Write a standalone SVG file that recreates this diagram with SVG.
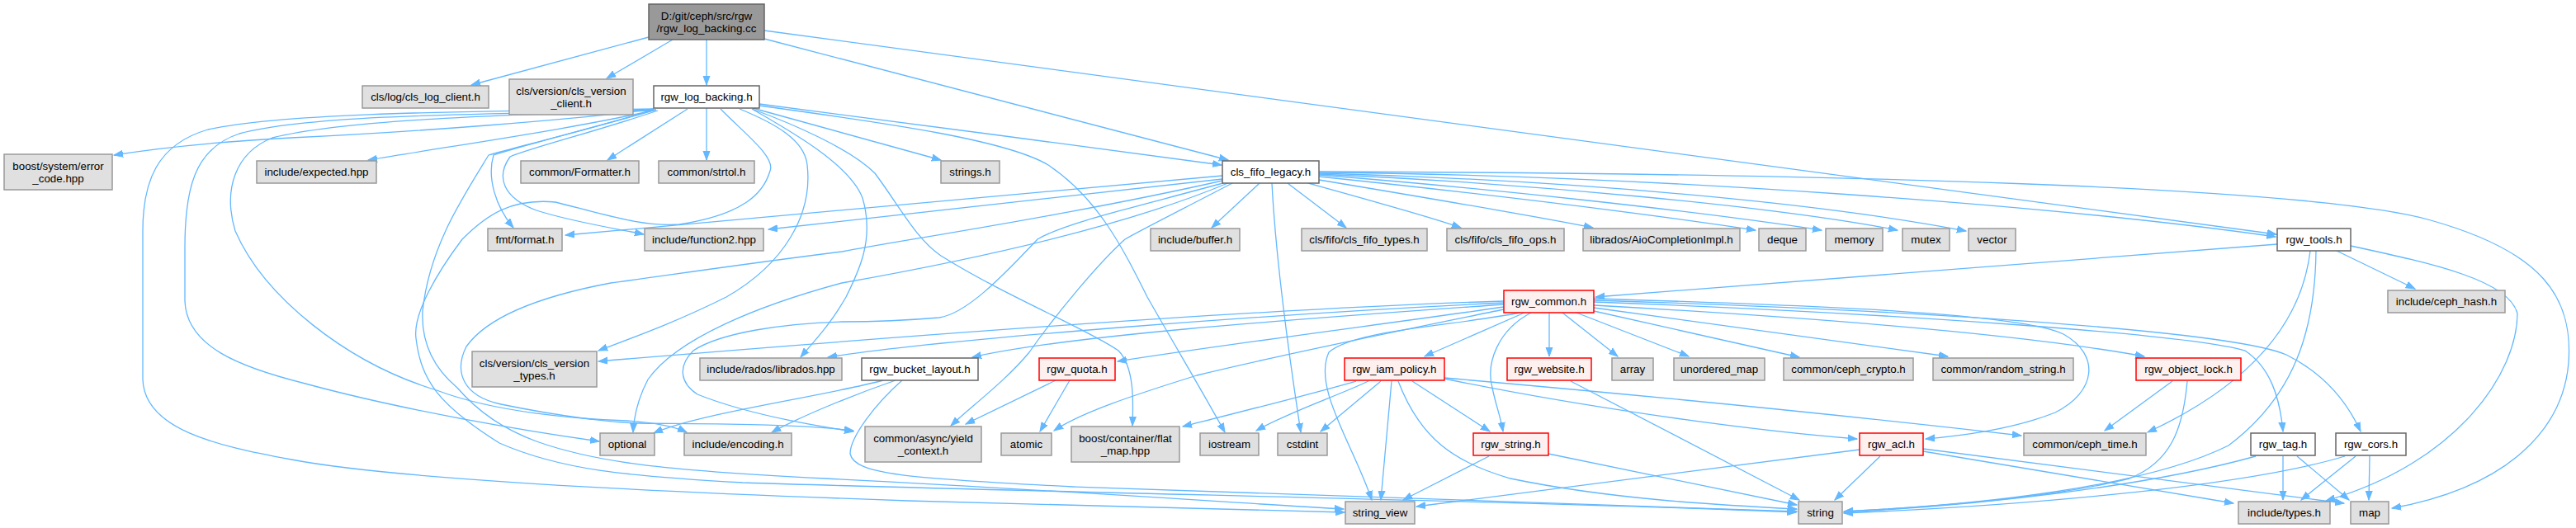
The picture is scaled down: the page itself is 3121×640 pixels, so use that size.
<svg xmlns="http://www.w3.org/2000/svg" width="3121" height="640" viewBox="0 0 3121 640">
<style>
text{font-family:"Liberation Sans",Arial,sans-serif;font-size:13.33px;fill:#000;text-anchor:middle}
.g rect{fill:#e0e0e0;stroke:#999999;stroke-width:1.5}
.w rect{fill:#ffffff;stroke:#666666;stroke-width:1.5}
.r rect{fill:#fff0f0;stroke:#ff0000;stroke-width:1.5}
.root rect{fill:#999999;stroke:#666666;stroke-width:1.5}
#edges path{fill:none;stroke:#63b8ff;stroke-width:1.3;marker-end:url(#ah)}
</style>
<defs>
<marker id="ah" markerUnits="userSpaceOnUse" markerWidth="12" markerHeight="10" viewBox="0 0 12 10" refX="11" refY="5" orient="auto">
<path d="M0,1 L11,5 L0,9 z" fill="#63b8ff" stroke="#63b8ff" stroke-width="1"/>
</marker>
</defs>
<rect width="3121" height="640" fill="#ffffff"/>
<g id="edges">
<path d="M786,45 L571,103"/>
<path d="M815,48 L735,95"/>
<path d="M856,48 L856,103"/>
<path d="M926,47 L1488,194"/>
<path d="M926,37 L2758,284"/>
<path d="M920,126 C1100,150 1300,175 1480,200"/>
<path d="M792,132 C700,145 500,160 353,167 C260,172 200,178 138,188"/>
<path d="M795,133 C700,155 560,175 446,194"/>
<path d="M833,132 L736,194"/>
<path d="M856,131 L856,194"/>
<path d="M912,131 L1140,194"/>
<path d="M795,133 C700,160 620,180 598,188 C590,215 600,250 622,276"/>
<path d="M797,134 C720,160 640,180 618,190 C600,215 610,240 650,255 C690,268 740,276 780,284"/>
<path d="M896,132 C940,150 975,170 978,200 C985,260 950,320 880,360 C820,390 770,408 725,425"/>
<path d="M911,132 C960,160 1030,200 1045,240 C1060,290 1040,330 1025,360 C1005,395 985,415 970,433"/>
<path d="M911,132 C960,150 1030,180 1060,210 C1090,250 1110,290 1140,310 C1220,360 1320,400 1355,425 C1375,445 1373,490 1372,516"/>
<path d="M920,128 C1080,150 1220,170 1270,200 C1330,240 1360,300 1390,360 C1430,430 1460,480 1484,524"/>
<path d="M792,134 C600,138 380,138 290,162 C235,180 224,230 224,300 L224,365 C226,420 290,445 370,465 C480,495 620,520 726,535"/>
<path d="M792,132 C600,135 350,135 252,157 C190,175 173,220 173,280 L173,460 C175,520 260,540 353,557 C500,585 900,600 1100,607 C1300,612 1500,617 1629,621"/>
<path d="M793,133 C600,140 420,145 330,167 C285,185 270,230 285,280 C320,360 420,440 529,473 C600,500 700,508 760,510 C790,512 815,516 832,524"/>
<path d="M873,132 C900,160 940,190 933,207 C925,235 900,260 823,272 C780,275 740,262 673,245 C620,240 590,260 560,290 C530,330 500,380 504,410 C510,460 530,490 605,537 C680,570 760,577 900,585 C1300,598 1900,608 2176,621"/>
<path d="M793,133 C700,160 620,180 592,188 C560,240 520,300 512,377 C510,420 530,450 554,470 C580,500 610,520 650,535 C720,560 800,570 1000,580 C1300,595 1500,610 1628,617"/>
<path d="M1481,217 L931,278"/>
<path d="M1481,213 L685,285"/>
<path d="M1526,222 L1468,276"/>
<path d="M1560,222 L1631,276"/>
<path d="M1585,222 C1650,240 1730,262 1770,276"/>
<path d="M1598,218 C1700,235 1850,260 1930,276"/>
<path d="M1598,214 C1800,235 2000,260 2127,279"/>
<path d="M1598,212 C1800,228 2050,255 2207,279"/>
<path d="M1598,211 C1850,222 2150,250 2299,279"/>
<path d="M1598,210 C1900,218 2200,245 2382,280"/>
<path d="M1598,209 C2000,212 2500,250 2757,287"/>
<path d="M1598,208 C2200,210 2800,225 2945,267 C3080,305 3118,360 3112,440 C3105,520 3040,590 2898,616"/>
<path d="M1541,222 C1545,300 1560,420 1576,524"/>
<path d="M1490,221 C1350,280 1150,320 1020,343 C920,370 820,410 785,460 C772,485 768,505 767,524"/>
<path d="M1495,221 C1420,260 1380,280 1363,290 C1330,320 1280,380 1247,427 C1220,460 1180,490 1152,516"/>
<path d="M1485,221 C1380,250 1290,270 1257,290 C1210,340 1170,380 1138,385 C1080,390 1040,390 1020,390 C950,392 873,403 840,425 C820,445 825,465 845,478 C900,500 980,515 1034,523"/>
<path d="M1481,219 C1300,260 1100,290 1020,305 C900,320 800,335 740,343 C650,360 590,385 565,420 C550,450 560,480 607,490 C680,505 740,512 773,513 C850,514 960,513 1034,522"/>
<path d="M1847,379 L1726,432"/>
<path d="M1855,379 C1815,400 1800,440 1808,470 C1812,490 1818,505 1821,523"/>
<path d="M1877,379 L1877,432"/>
<path d="M1893,379 L1960,432"/>
<path d="M1910,379 L2046,432"/>
<path d="M1931,377 L2180,433"/>
<path d="M1842,379 C1760,395 1640,400 1610,427 C1590,470 1640,540 1662,606"/>
<path d="M1931,373 L2360,432"/>
<path d="M1931,370 C2200,385 2450,405 2598,432"/>
<path d="M1931,366 C2300,380 2650,405 2720,425 C2750,445 2762,480 2766,523"/>
<path d="M1931,364 C2300,375 2700,400 2770,430 C2820,455 2845,490 2860,523"/>
<path d="M1931,362 C2200,370 2450,380 2500,405 C2545,430 2540,475 2490,500 C2440,520 2380,528 2333,532"/>
<path d="M1822,375 C1700,400 1560,428 1450,455 C1370,480 1310,500 1277,522"/>
<path d="M1822,372 C1700,390 1500,415 1354,438"/>
<path d="M1822,369 C1600,385 1300,405 1178,433"/>
<path d="M1822,367 C1550,380 1150,410 1003,433"/>
<path d="M1822,365 C1500,375 1000,415 725,438"/>
<path d="M1686,462 L1673,606"/>
<path d="M1694,462 C1720,530 1760,560 1830,580 C1950,605 2080,612 2177,617"/>
<path d="M1711,462 L1805,523"/>
<path d="M1750,459 C1900,490 2100,520 2250,532"/>
<path d="M1750,458 C2000,480 2250,505 2449,528"/>
<path d="M1673,462 L1600,523"/>
<path d="M1658,462 C1620,480 1560,500 1522,522"/>
<path d="M1643,462 C1580,480 1500,500 1433,517"/>
<path d="M1070,461 C1000,480 850,500 792,525"/>
<path d="M1085,461 C1030,480 970,505 935,524"/>
<path d="M1093,461 C1060,490 1030,530 1030,550 C1035,575 1100,580 1300,590 C1600,600 1900,612 2177,620"/>
<path d="M1279,461 L1170,514"/>
<path d="M1296,461 L1260,523"/>
<path d="M1903,462 L2180,606"/>
<path d="M1804,553 L1700,606"/>
<path d="M1876,550 L2177,612"/>
<path d="M2253,545 L1716,614"/>
<path d="M2278,553 L2223,606"/>
<path d="M2330,547 L2706,610"/>
<path d="M2330,544 L2840,610"/>
<path d="M2632,462 L2550,522"/>
<path d="M2650,462 C2645,520 2630,560 2580,580 C2480,605 2330,615 2234,620"/>
<path d="M2733,553 C2600,590 2400,612 2234,621"/>
<path d="M2766,553 L2766,606"/>
<path d="M2783,553 L2846,606"/>
<path d="M2841,553 C2700,595 2400,615 2234,622"/>
<path d="M2854,553 L2788,606"/>
<path d="M2871,553 L2870,606"/>
<path d="M2759,296 L1933,360"/>
<path d="M2831,304 L2926,350"/>
<path d="M2799,304 C2790,380 2740,460 2602,524"/>
<path d="M2806,304 C2805,400 2780,480 2700,540 C2600,590 2400,612 2234,620"/>
<path d="M2848,298 C2950,320 3040,340 3050,380 C3050,450 2980,560 2818,607"/>
</g>
<g id="n_root" class="root"><rect x="786" y="5" width="140" height="43"/><text x="856" y="23.5">D:/git/ceph/src/rgw</text><text x="856" y="38.5">/rgw_log_backing.cc</text></g>
<g id="n_logclient" class="g"><rect x="439" y="104" width="153" height="27"/><text x="515.5" y="122">cls/log/cls_log_client.h</text></g>
<g id="n_verclient" class="g"><rect x="617" y="96" width="150" height="43"/><text x="692" y="114.5">cls/version/cls_version</text><text x="692" y="129.5">_client.h</text></g>
<g id="n_lbh" class="w"><rect x="792" y="104" width="128" height="27"/><text x="856" y="122">rgw_log_backing.h</text></g>
<g id="n_boosterr" class="g"><rect x="5" y="187" width="131" height="43"/><text x="70.5" y="205.5">boost/system/error</text><text x="70.5" y="220.5">_code.hpp</text></g>
<g id="n_expected" class="g"><rect x="311" y="195" width="145" height="27"/><text x="383.5" y="213">include/expected.hpp</text></g>
<g id="n_formatter" class="g"><rect x="631" y="195" width="143" height="27"/><text x="702.5" y="213">common/Formatter.h</text></g>
<g id="n_strtol" class="g"><rect x="798" y="195" width="116" height="27"/><text x="856" y="213">common/strtol.h</text></g>
<g id="n_strings" class="g"><rect x="1140" y="195" width="71" height="27"/><text x="1175.5" y="213">strings.h</text></g>
<g id="n_fifo" class="w"><rect x="1481" y="195" width="117" height="27"/><text x="1539.5" y="213">cls_fifo_legacy.h</text></g>
<g id="n_fmt" class="g"><rect x="591" y="277" width="90" height="27"/><text x="636" y="295">fmt/format.h</text></g>
<g id="n_func2" class="g"><rect x="781" y="277" width="144" height="27"/><text x="853" y="295">include/function2.hpp</text></g>
<g id="n_buffer" class="g"><rect x="1394" y="277" width="108" height="27"/><text x="1448" y="295">include/buffer.h</text></g>
<g id="n_fifotypes" class="g"><rect x="1577" y="277" width="152" height="27"/><text x="1653" y="295">cls/fifo/cls_fifo_types.h</text></g>
<g id="n_fifoops" class="g"><rect x="1753" y="277" width="142" height="27"/><text x="1824" y="295">cls/fifo/cls_fifo_ops.h</text></g>
<g id="n_aio" class="g"><rect x="1918" y="277" width="190" height="27"/><text x="2013" y="295">librados/AioCompletionImpl.h</text></g>
<g id="n_deque" class="g"><rect x="2131" y="277" width="57" height="27"/><text x="2159.5" y="295">deque</text></g>
<g id="n_memory" class="g"><rect x="2212" y="277" width="69" height="27"/><text x="2246.5" y="295">memory</text></g>
<g id="n_mutex" class="g"><rect x="2305" y="277" width="57" height="27"/><text x="2333.5" y="295">mutex</text></g>
<g id="n_vector" class="g"><rect x="2385" y="277" width="57" height="27"/><text x="2413.5" y="295">vector</text></g>
<g id="n_tools" class="w"><rect x="2759" y="277" width="89" height="27"/><text x="2803.5" y="295">rgw_tools.h</text></g>
<g id="n_common" class="r"><rect x="1822" y="352" width="109" height="27"/><text x="1876.5" y="370">rgw_common.h</text></g>
<g id="n_cephhash" class="g"><rect x="2893" y="352" width="142" height="27"/><text x="2964" y="370">include/ceph_hash.h</text></g>
<g id="n_vertypes" class="g"><rect x="572" y="426" width="151" height="43"/><text x="647.5" y="444.5">cls/version/cls_version</text><text x="647.5" y="459.5">_types.h</text></g>
<g id="n_librados" class="g"><rect x="848" y="434" width="172" height="27"/><text x="934" y="452">include/rados/librados.hpp</text></g>
<g id="n_bucket" class="w"><rect x="1044" y="434" width="141" height="27"/><text x="1114.5" y="452">rgw_bucket_layout.h</text></g>
<g id="n_quota" class="r"><rect x="1259" y="434" width="92" height="27"/><text x="1305" y="452">rgw_quota.h</text></g>
<g id="n_iam" class="r"><rect x="1629" y="434" width="121" height="27"/><text x="1689.5" y="452">rgw_iam_policy.h</text></g>
<g id="n_website" class="r"><rect x="1826" y="434" width="102" height="27"/><text x="1877" y="452">rgw_website.h</text></g>
<g id="n_array" class="g"><rect x="1953" y="434" width="50" height="27"/><text x="1978" y="452">array</text></g>
<g id="n_umap" class="g"><rect x="2028" y="434" width="110" height="27"/><text x="2083" y="452">unordered_map</text></g>
<g id="n_crypto" class="g"><rect x="2161" y="434" width="157" height="27"/><text x="2239.5" y="452">common/ceph_crypto.h</text></g>
<g id="n_random" class="g"><rect x="2342" y="434" width="170" height="27"/><text x="2427" y="452">common/random_string.h</text></g>
<g id="n_objlock" class="r"><rect x="2588" y="434" width="127" height="27"/><text x="2651.5" y="452">rgw_object_lock.h</text></g>
<g id="n_optional" class="g"><rect x="727" y="525" width="66" height="27"/><text x="760" y="543">optional</text></g>
<g id="n_encoding" class="g"><rect x="829" y="525" width="130" height="27"/><text x="894" y="543">include/encoding.h</text></g>
<g id="n_yield" class="g"><rect x="1048" y="517" width="141" height="43"/><text x="1118.5" y="535.5">common/async/yield</text><text x="1118.5" y="550.5">_context.h</text></g>
<g id="n_atomic" class="g"><rect x="1213" y="525" width="61" height="27"/><text x="1243.5" y="543">atomic</text></g>
<g id="n_flatmap" class="g"><rect x="1298" y="517" width="131" height="43"/><text x="1363.5" y="535.5">boost/container/flat</text><text x="1363.5" y="550.5">_map.hpp</text></g>
<g id="n_iostream" class="g"><rect x="1454" y="525" width="71" height="27"/><text x="1489.5" y="543">iostream</text></g>
<g id="n_cstdint" class="g"><rect x="1548" y="525" width="60" height="27"/><text x="1578" y="543">cstdint</text></g>
<g id="n_rgwstring" class="r"><rect x="1785" y="525" width="91" height="27"/><text x="1830.5" y="543">rgw_string.h</text></g>
<g id="n_acl" class="r"><rect x="2253" y="525" width="77" height="27"/><text x="2291.5" y="543">rgw_acl.h</text></g>
<g id="n_cephtime" class="g"><rect x="2452" y="525" width="148" height="27"/><text x="2526" y="543">common/ceph_time.h</text></g>
<g id="n_tag" class="w"><rect x="2727" y="525" width="78" height="27"/><text x="2766" y="543">rgw_tag.h</text></g>
<g id="n_cors" class="w"><rect x="2830" y="525" width="85" height="27"/><text x="2872.5" y="543">rgw_cors.h</text></g>
<g id="n_sv" class="g"><rect x="1630" y="608" width="84" height="27"/><text x="1672" y="626">string_view</text></g>
<g id="n_string" class="g"><rect x="2179" y="608" width="53" height="27"/><text x="2205.5" y="626">string</text></g>
<g id="n_types" class="g"><rect x="2712" y="608" width="111" height="27"/><text x="2767.5" y="626">include/types.h</text></g>
<g id="n_map" class="g"><rect x="2848" y="608" width="46" height="27"/><text x="2871" y="626">map</text></g>
</svg>
